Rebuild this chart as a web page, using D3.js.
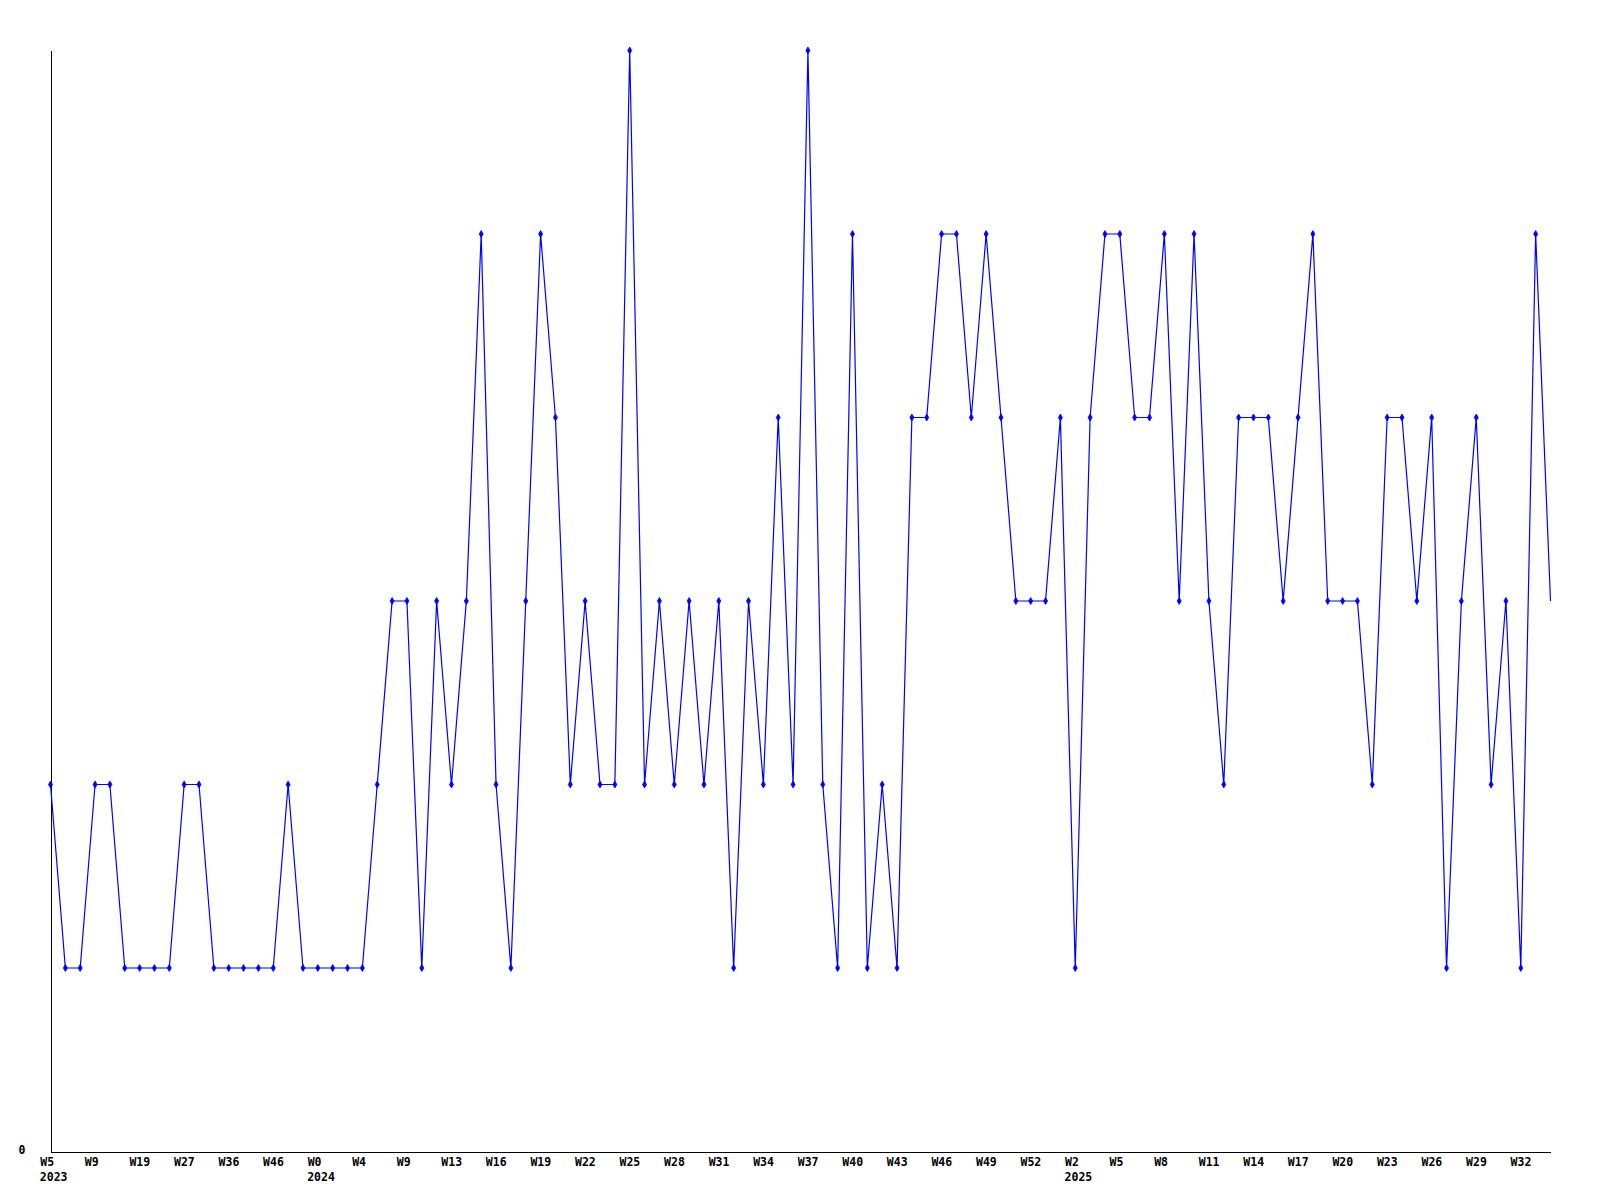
<!DOCTYPE html>
<html>
<head>
<meta charset="utf-8">
<script src="https://cdn.jsdelivr.net/npm/d3@7/dist/d3.min.js"></script>
<style>
  html, body { margin: 0; padding: 0; background: #fff; }
  svg { display: block; }
  .lbl { font-family: "DejaVu Sans Mono", "Liberation Mono", monospace; font-weight: bold; font-size: 11.5px; fill: #000; }
</style>
</head>
<body>
<svg id="chart" width="1600" height="1200"></svg>
<script>
// Weekly values (one per point, left to right)
const values = [
  2,1,1,2,2,1,1,1,1,2,
  2,1,1,1,1,1,2,1,1,1,
  1,1,2,3,3,1,3,2,3,5,
  2,1,3,5,4,2,3,2,2,6,
  2,3,2,3,2,3,1,3,2,4,
  2,6,2,1,5,1,2,1,4,4,
  5,5,4,5,4,3,3,3,4,1,
  4,5,5,4,4,5,3,5,3,2,
  4,4,4,3,4,5,3,3,3,2,
  4,4,3,4,1,3,4,2,3,1,
  5,3
];
// Tick labels, every third point starting at the first
const tickLabels = [
  "W5","W9","W19","W27","W36","W46","W0","W4","W9","W13","W16","W19",
  "W22","W25","W28","W31","W34","W37","W40","W43","W46","W49","W52",
  "W2","W5","W8","W11","W14","W17","W20","W23","W26","W29","W32"
];
const tickStep = 3;
// Year labels under specific ticks (tick index -> year)
const yearTickIdx = [0, 6, 23];
const yearLabels = ["2023", "2024", "2025"];
const yMax = 6;

const svg = d3.select("#chart");
const x = d3.scaleLinear().domain([0, values.length - 1]).range([50.5, 1550.5]);
const y = d3.scaleLinear().domain([0, yMax]).range([1151.5, 50.5]);

const tickVals = tickLabels.map((_, k) => k * tickStep);

// x axis
const xAxis = d3.axisBottom(x)
  .tickValues(tickVals)
  .tickSize(0)
  .tickSizeOuter(0)
  .tickPadding(0)
  .tickFormat((d, k) => tickLabels[k]);
const gx = svg.append("g").attr("transform", `translate(0,${y(0)})`).call(xAxis);
gx.select(".domain").attr("stroke", "#000").attr("stroke-width", 1).attr("shape-rendering", "crispEdges");
gx.selectAll(".tick text")
  .attr("class", "lbl")
  .attr("text-anchor", "start")
  .attr("dx", -10.7)
  .attr("dy", null)
  .attr("y", 14.3);

// year labels
svg.append("g").selectAll("text")
  .data(yearTickIdx)
  .join("text")
  .attr("class", "lbl")
  .attr("x", (d) => x(d * tickStep) - 10.7)
  .attr("y", y(0) + 29.8)
  .text((d, k) => yearLabels[k]);

// y axis
const yAxis = d3.axisLeft(y).tickValues([0]).tickSize(0).tickSizeOuter(0).tickPadding(0).tickFormat(d3.format("d"));
const gy = svg.append("g").attr("transform", `translate(${x(0)},0)`).call(yAxis);
gy.select(".domain").attr("stroke", "#000").attr("stroke-width", 1).attr("shape-rendering", "crispEdges");
gy.selectAll(".tick text")
  .attr("class", "lbl")
  .attr("text-anchor", "end")
  .attr("x", -25)
  .attr("dy", null)
  .attr("y", 1.8);
svg.selectAll("g").attr("font-family", null).attr("font-size", null);

// line
const line = d3.line().x((d, i) => x(i)).y((d) => y(d));
svg.append("path")
  .datum(values)
  .attr("d", line)
  .attr("fill", "none")
  .attr("stroke", "#0000ff")
  .attr("stroke-width", 1.2);

// markers (last point has none in the reference)
const diamond = d3.symbol().type(d3.symbolDiamond).size(14);
svg.append("g").selectAll("path")
  .data(values.slice(0, values.length - 1))
  .join("path")
  .attr("d", diamond)
  .attr("transform", (d, i) => `translate(${x(i)},${y(d)})`)
  .attr("fill", "#0000ff")
  .attr("stroke", "#0000ff")
  .attr("stroke-width", 0.8);
</script>
</body>
</html>
